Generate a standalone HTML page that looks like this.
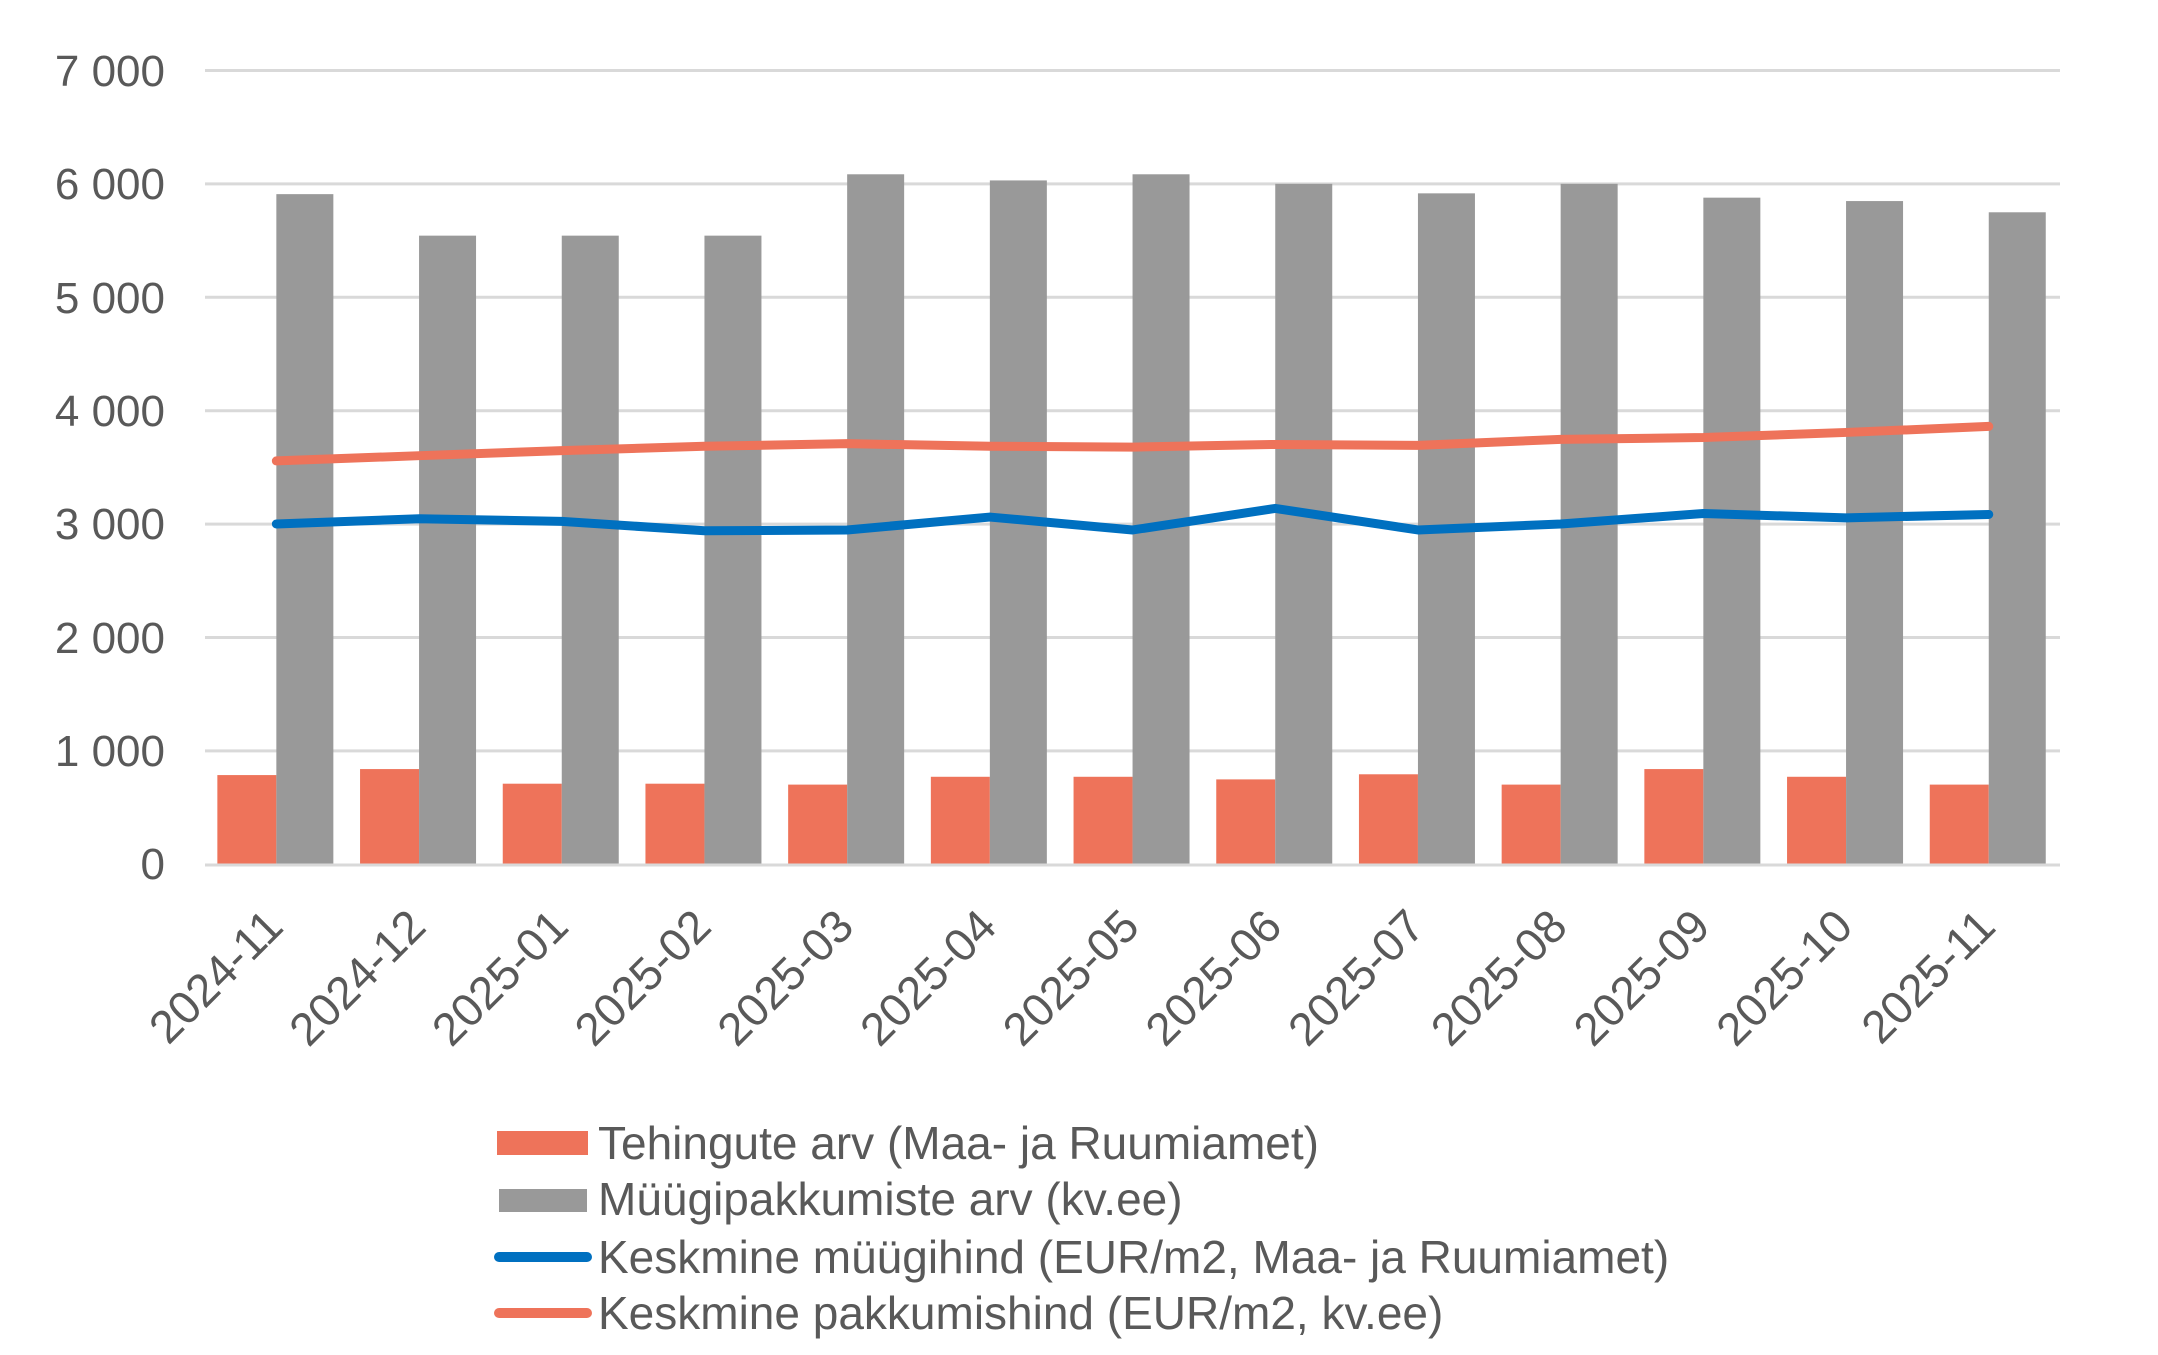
<!DOCTYPE html>
<html><head><meta charset="utf-8"><style>html,body{margin:0;padding:0;background:#fff}svg{display:block}</style></head>
<body>
<svg width="2158" height="1355" viewBox="0 0 2158 1355" xmlns="http://www.w3.org/2000/svg" font-family="Liberation Sans, Arial, sans-serif" fill="#595959">
<g stroke="#D9D9D9" stroke-width="3">
<line x1="205" x2="2060" y1="70.5" y2="70.5"/>
<line x1="205" x2="2060" y1="183.9" y2="183.9"/>
<line x1="205" x2="2060" y1="297.3" y2="297.3"/>
<line x1="205" x2="2060" y1="410.7" y2="410.7"/>
<line x1="205" x2="2060" y1="524.1" y2="524.1"/>
<line x1="205" x2="2060" y1="637.5" y2="637.5"/>
<line x1="205" x2="2060" y1="750.9" y2="750.9"/>
</g>
<g font-size="44" text-anchor="end">
<text x="165" y="86">7 000</text>
<text x="165" y="199">6 000</text>
<text x="165" y="313">5 000</text>
<text x="165" y="426">4 000</text>
<text x="165" y="539">3 000</text>
<text x="165" y="653">2 000</text>
<text x="165" y="766">1 000</text>
<text x="165" y="879">0</text>
</g>
<g id="bars"></g>
<line x1="205" x2="2060" y1="865" y2="865" stroke="#D9D9D9" stroke-width="3"/>
<polyline id="red" fill="none" stroke="#EE735A" stroke-width="9" stroke-linecap="round" stroke-linejoin="round"/>
<polyline id="blue" fill="none" stroke="#0070C0" stroke-width="9" stroke-linecap="round" stroke-linejoin="round"/>
<g id="xl" font-size="46" text-anchor="end"></g>
<rect x="497" y="1131" width="91" height="24" fill="#EE735A"/>
<rect x="499" y="1189" width="88" height="23" fill="#999999"/>
<line x1="499" x2="587" y1="1257" y2="1257" stroke="#0070C0" stroke-width="10" stroke-linecap="round"/>
<line x1="499" x2="587" y1="1313" y2="1313" stroke="#EE735A" stroke-width="10" stroke-linecap="round"/>
<g font-size="46">
<text x="598" y="1159">Tehingute arv (Maa- ja Ruumiamet)</text>
<text x="598" y="1215">Müügipakkumiste arv (kv.ee)</text>
<text x="598" y="1273">Keskmine müügihind (EUR/m2, Maa- ja Ruumiamet)</text>
<text x="598" y="1329">Keskmine pakkumishind (EUR/m2, kv.ee)</text>
</g>
<script>
var gray=[5906,5540,5540,5540,6081,6027,6081,5997,5913,5997,5875,5845,5746];
var org=[784,837,708,708,700,769,769,746,791,700,837,769,700];
var red=[3554,3600,3645,3683,3706,3683,3676,3699,3691,3744,3760,3805,3858];
var blue=[2998,3044,3021,2938,2945,3059,2945,3135,2945,2998,3090,3052,3082];
var labs=["2024-11","2024-12","2025-01","2025-02","2025-03","2025-04","2025-05","2025-06","2025-07","2025-08","2025-09","2025-10","2025-11"];
var ns="http://www.w3.org/2000/svg";
function Y(v){return 864-v*0.11342;}
var b=document.getElementById("bars"),xl=document.getElementById("xl"),rp=[],bp=[];
for(var i=0;i<13;i++){
 var c=205+142.7*(i+0.5);
 var r=document.createElementNS(ns,"rect");r.setAttribute("x",c-59);r.setAttribute("width",59);r.setAttribute("y",Y(org[i]));r.setAttribute("height",864-Y(org[i]));r.setAttribute("fill","#EE735A");b.appendChild(r);
 r=document.createElementNS(ns,"rect");r.setAttribute("x",c);r.setAttribute("width",57);r.setAttribute("y",Y(gray[i]));r.setAttribute("height",864-Y(gray[i]));r.setAttribute("fill","#999999");b.appendChild(r);
 rp.push(c+","+Y(red[i]));bp.push(c+","+Y(blue[i]));
 var t=document.createElementNS(ns,"text");var tx=c+9,ty=929;t.setAttribute("x",tx);t.setAttribute("y",ty);t.setAttribute("transform","rotate(-45 "+tx+" "+ty+")");t.textContent=labs[i];xl.appendChild(t);
}
document.getElementById("red").setAttribute("points",rp.join(" "));
document.getElementById("blue").setAttribute("points",bp.join(" "));
</script>
</svg>
</body></html>
